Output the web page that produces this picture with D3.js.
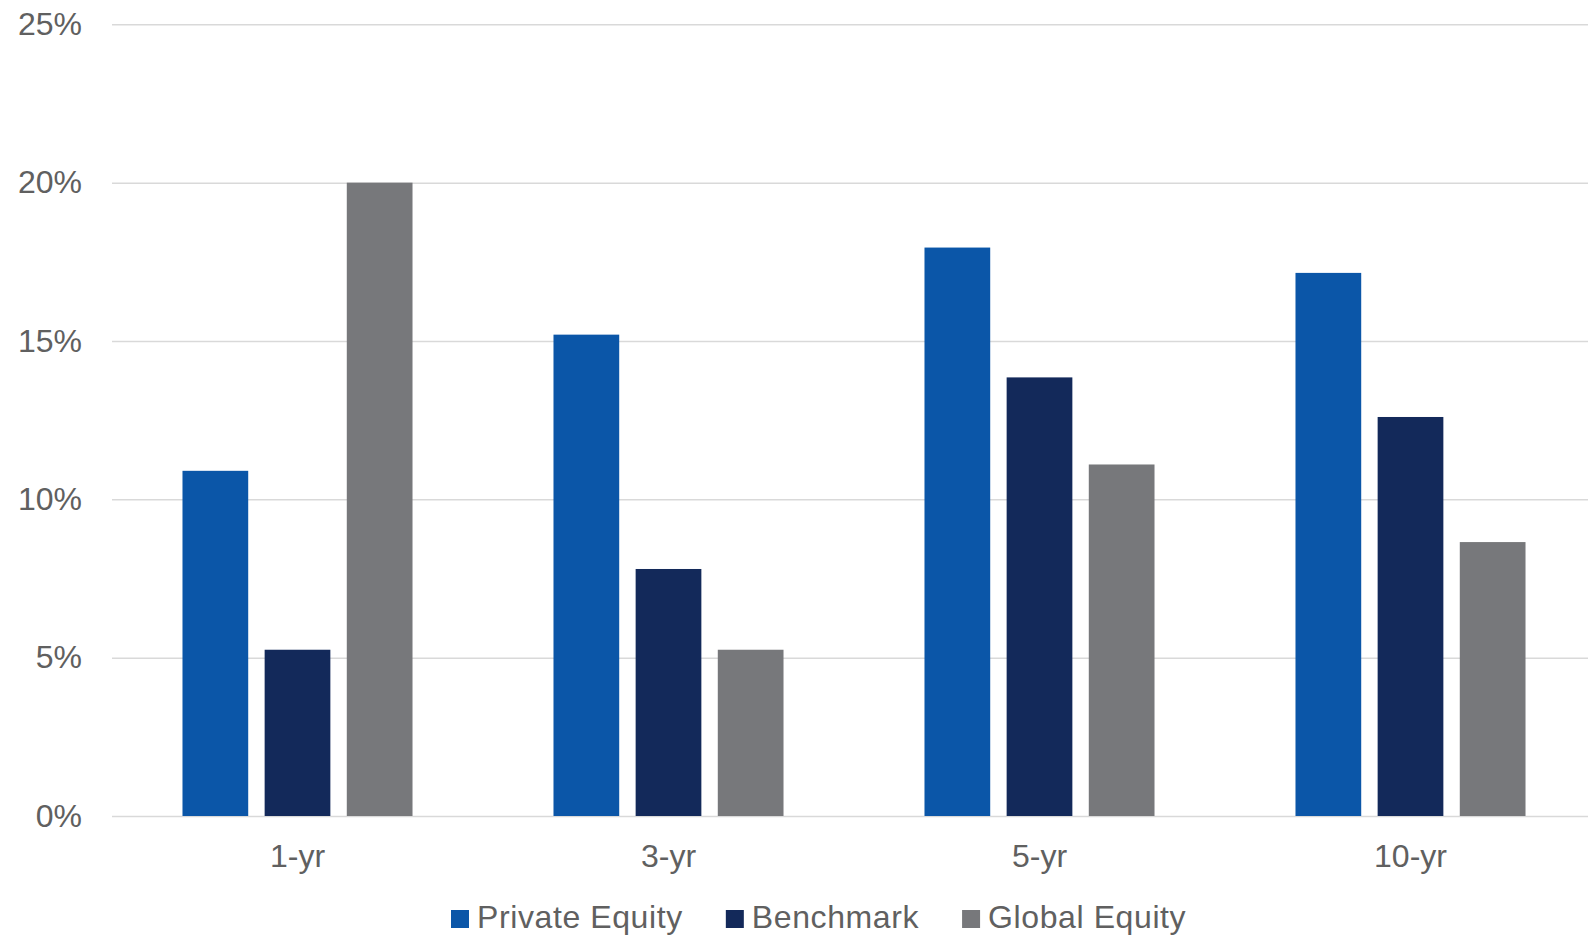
<!DOCTYPE html>
<html>
<head>
<meta charset="utf-8">
<script src="https://cdn.jsdelivr.net/npm/d3@7"></script>
<style>
  body { margin: 0; background: #fff; }
  text { font-family: Arial, "Liberation Sans", sans-serif; }
</style>
</head>
<body>
<div id="chart"></div>
<script>
// Data
const categories = ["1-yr", "3-yr", "5-yr", "10-yr"];
const seriesNames = ["Private Equity", "Benchmark", "Global Equity"];
const privateEquity = [10.9, 15.2, 17.95, 17.15];
const benchmark = [5.25, 7.8, 13.85, 12.6];
const globalEquity = [20.0, 5.25, 11.1, 8.65];
const yTicks = [0, 5, 10, 15, 20, 25];
const colors = ["#0b56a8", "#13295a", "#77787b"];

// Chart dimensions
const width = 1588;
const height = 937;
const plotLeft = 112;
const plotRight = 1596;
const plotTop = 24.3;
const plotBottom = 816;
const textColor = "#606060";

const svg = d3.select("#chart")
    .append("svg")
    .attr("width", width)
    .attr("height", height);

// Scales
const x0 = d3.scaleBand()
    .domain(categories)
    .range([plotLeft, plotRight])
    .paddingInner(0.38)
    .paddingOuter(0.19);

const x1 = d3.scaleBand()
    .domain(seriesNames)
    .range([0, x0.bandwidth()])
    .paddingInner(0.2)
    .paddingOuter(0);

const y = d3.scaleLinear()
    .domain([0, 25])
    .range([plotBottom, plotTop]);

const color = d3.scaleOrdinal().domain(seriesNames).range(colors);

// Y axis with gridlines
const yAxis = svg.append("g")
    .attr("transform", `translate(${plotLeft},0)`)
    .call(d3.axisLeft(y)
        .tickValues(yTicks)
        .tickFormat(d => d + "%")
        .tickSizeInner(-(width - plotLeft))
        .tickSizeOuter(0)
        .tickPadding(30));
yAxis.select(".domain").remove();
yAxis.selectAll(".tick line").attr("stroke", "#d9d9d9").attr("stroke-width", 1.5);
yAxis.selectAll(".tick text")
    .attr("fill", textColor)
    .style("font-size", "32px");

// Bars
const rows = categories.map((c, i) => ({
    category: c,
    values: [privateEquity[i], benchmark[i], globalEquity[i]]
}));

const groups = svg.append("g")
    .selectAll("g")
    .data(rows)
    .join("g")
    .attr("transform", d => `translate(${x0(d.category)},0)`);

groups.selectAll("rect")
    .data(d => d.values.map((v, j) => ({ name: seriesNames[j], value: v })))
    .join("rect")
    .attr("x", d => x1(d.name))
    .attr("y", d => y(d.value))
    .attr("width", x1.bandwidth())
    .attr("height", d => y(0) - y(d.value))
    .attr("fill", d => color(d.name));

// X axis labels
const xAxis = svg.append("g")
    .attr("transform", `translate(0,${plotBottom})`)
    .call(d3.axisBottom(x0).tickSize(0).tickPadding(28));
xAxis.select(".domain").remove();
xAxis.selectAll(".tick text")
    .attr("fill", textColor)
    .style("font-size", "32px");

// Legend
const legend = svg.append("g").attr("transform", "translate(451,0)");
let lx = 0;
seriesNames.forEach((name) => {
    const item = legend.append("g").attr("transform", `translate(${lx},0)`);
    item.append("rect")
        .attr("x", 0)
        .attr("y", 910)
        .attr("width", 18)
        .attr("height", 18)
        .attr("fill", color(name));
    const t = item.append("text")
        .attr("x", 26)
        .attr("y", 928)
        .attr("fill", textColor)
        .style("font-size", "32px")
        .style("letter-spacing", "0.6px")
        .text(name);
    lx += 26 + t.node().getComputedTextLength() + 43;
});
</script>
</body>
</html>
